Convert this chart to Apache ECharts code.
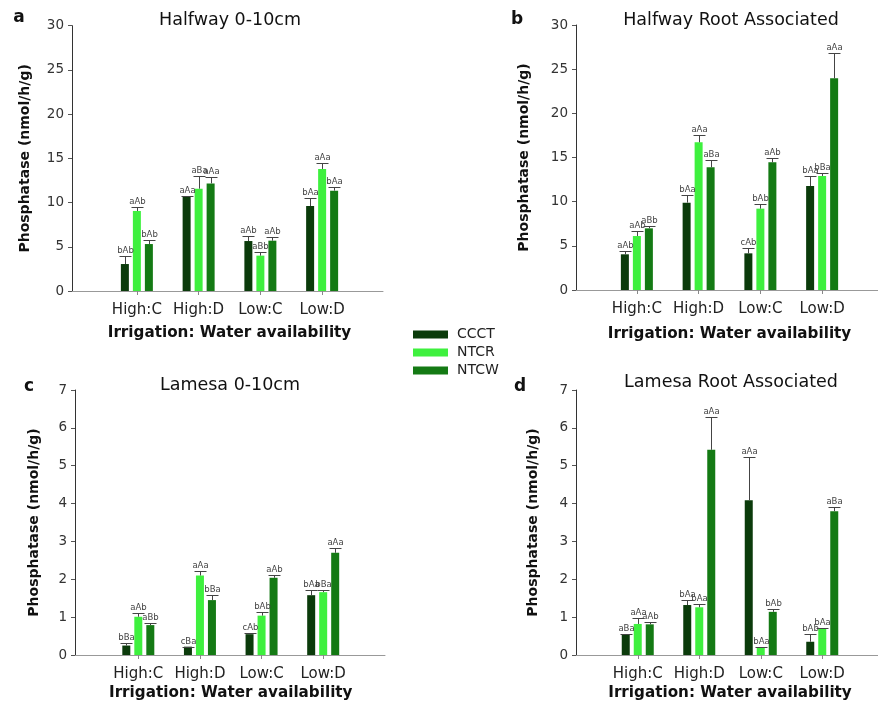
<!DOCTYPE html>
<html>
<head>
<meta charset="utf-8">
<script src="https://cdn.jsdelivr.net/npm/echarts@6/dist/echarts.min.js"></script>
<style>html,body{margin:0;padding:0;background:#fff}#c{width:878px;height:704px}</style>
</head>
<body>
<div id="c"></div>
<script>
// ---------- data ----------
const categories = ['High:C', 'High:D', 'Low:C', 'Low:D'];
const seriesNames = ['CCCT', 'NTCR', 'NTCW'];
const xAxisTitle = 'Irrigation: Water availability';
const yAxisTitle = 'Phosphatase (nmol/h/g)';

// Panel a: Halfway 0-10cm
const aCCCT = [3.05, 10.74, 5.65, 9.61];
const aCCCTse = [0.91, 0.05, 0.61, 0.94];
const aNTCR = [9.05, 11.57, 4.00, 13.80];
const aNTCRse = [0.41, 1.47, 0.37, 0.71];
const aNTCW = [5.31, 12.17, 5.69, 11.35];
const aNTCWse = [0.46, 0.68, 0.38, 0.41];
const aLabCCCT = ['bAb', 'aAa', 'aAb', 'bAa'];
const aLabNTCR = ['aAb', 'aBa', 'aBb', 'aAa'];
const aLabNTCW = ['bAb', 'aAa', 'aAb', 'bAa'];

// Panel b: Halfway Root Associated
const bCCCT = [4.04, 9.89, 4.15, 11.77];
const bCCCTse = [0.41, 0.83, 0.57, 1.17];
const bNTCR = [6.11, 16.72, 9.21, 12.91];
const bNTCRse = [0.57, 0.86, 0.53, 0.37];
const bNTCW = [6.98, 13.89, 14.45, 23.96];
const bNTCWse = [0.30, 0.79, 0.49, 2.91];
const bLabCCCT = ['aAb', 'bAa', 'cAb', 'bAa'];
const bLabNTCR = ['aAb', 'aAa', 'bAb', 'bBa'];
const bLabNTCW = ['aBb', 'aBa', 'aAb', 'aAa'];

// Panel c: Lamesa 0-10cm
const cCCCT = [0.25, 0.22, 0.55, 1.58];
const cCCCTse = [0.08, 0.00, 0.04, 0.15];
const cNTCR = [1.01, 2.10, 1.04, 1.66];
const cNTCRse = [0.11, 0.13, 0.10, 0.05];
const cNTCW = [0.79, 1.45, 2.04, 2.70];
const cNTCWse = [0.05, 0.13, 0.07, 0.13];
const cLabCCCT = ['bBa', 'cBa', 'cAb', 'bAa'];
const cLabNTCR = ['aAb', 'aAa', 'bAb', 'bBa'];
const cLabNTCW = ['aBb', 'bBa', 'aAb', 'aAa'];

// Panel d: Lamesa Root Associated
const dCCCT = [0.53, 1.32, 4.09, 0.35];
const dCCCTse = [0.02, 0.13, 1.13, 0.20];
const dNTCR = [0.82, 1.26, 0.20, 0.70];
const dNTCRse = [0.17, 0.09, 0.00, 0.02];
const dNTCW = [0.81, 5.42, 1.14, 3.80];
const dNTCWse = [0.06, 0.88, 0.08, 0.12];
const dLabCCCT = ['aBa', 'bAa', 'aAa', 'bAb'];
const dLabNTCR = ['aAa', 'bAa', 'bAa', 'bAa'];
const dLabNTCW = ['aAb', 'aAa', 'bAb', 'aBa'];

const panelTitles = ['Halfway 0-10cm', 'Halfway Root Associated', 'Lamesa 0-10cm', 'Lamesa Root Associated'];
const panelLetters = ['a', 'b', 'c', 'd'];
const yMaxes = [30, 30, 7, 7];
const yIntervals = [5, 5, 1, 1];

// ---------- style / layout ----------
const FF = 'DejaVu Sans';
const colors = ['#0b3b0b', '#3ef03e', '#147a14'];
const BAR_W = 8, BAR_GAP = 4;

const panels = [
  { vals: [aCCCT, aNTCR, aNTCW], ses: [aCCCTse, aNTCRse, aNTCWse], labs: [aLabCCCT, aLabNTCR, aLabNTCW],
    yAx: 72, gl: 106, gr: 353, top: 25.7, bot: 291, fr: 383, tx: 230, ty: 20.5, lx: 19, ly: 18, nameGap: 40, xNameGap: 35 },
  { vals: [bCCCT, bNTCR, bNTCW], ses: [bCCCTse, bNTCRse, bNTCWse], labs: [bLabCCCT, bLabNTCR, bLabNTCW],
    yAx: 576, gl: 606, gr: 853, top: 25, bot: 290, fr: 878, tx: 731, ty: 20.5, lx: 517, ly: 20, nameGap: 45, xNameGap: 37 },
  { vals: [cCCCT, cNTCR, cNTCW], ses: [cCCCTse, cNTCRse, cNTCWse], labs: [cLabCCCT, cLabNTCR, cLabNTCW],
    yAx: 75, gl: 107.5, gr: 354, top: 390, bot: 655, fr: 385, tx: 230, ty: 385, lx: 29, ly: 387, nameGap: 34, xNameGap: 31 },
  { vals: [dCCCT, dNTCR, dNTCW], ses: [dCCCTse, dNTCRse, dNTCWse], labs: [dLabCCCT, dLabNTCR, dLabNTCW],
    yAx: 576, gl: 607, gr: 853, top: 390, bot: 655, fr: 878, tx: 731, ty: 382, lx: 520, ly: 387, nameGap: 36, xNameGap: 31 }
];

const grid = [], xAxis = [], yAxis = [], series = [], graphic = [];

panels.forEach((p, i) => {
  grid.push({ left: p.gl, width: p.gr - p.gl, top: p.top, height: p.bot - p.top, containLabel: false });
  xAxis.push({
    type: 'category', gridIndex: i, data: categories,
    axisLine: { show: false },
    axisTick: { show: true, alignWithLabel: true, interval: 0, length: 4, lineStyle: { color: '#888' } },
    axisLabel: { interval: 0, fontFamily: FF, fontSize: 15, color: '#222', margin: 12 },
    name: xAxisTitle, nameLocation: 'middle', nameGap: p.xNameGap,
    nameTextStyle: { fontFamily: FF, fontWeight: 'bold', fontSize: 15.2, color: '#111' },
    splitLine: { show: false }
  });
  yAxis.push({
    type: 'value', gridIndex: i, min: 0, max: yMaxes[i], interval: yIntervals[i],
    offset: p.gl - p.yAx,
    axisLine: { show: true, lineStyle: { color: '#333' } },
    axisTick: { show: true, inside: false, length: 4, lineStyle: { color: '#555' } },
    axisLabel: { fontFamily: FF, fontSize: 13.5, color: '#333', margin: 8 },
    splitLine: { show: false },
    name: yAxisTitle, nameLocation: 'middle', nameRotate: 90, nameGap: p.nameGap,
    nameTextStyle: { fontFamily: FF, fontWeight: 'bold', fontSize: 14, color: '#111' }
  });
  seriesNames.forEach((sn, k) => {
    series.push({
      type: 'bar', name: sn, xAxisIndex: i, yAxisIndex: i,
      data: p.vals[k], barWidth: BAR_W, barGap: (BAR_GAP / BAR_W * 100) + '%',
      itemStyle: { color: colors[k] }, z: 2
    });
  });
  seriesNames.forEach((sn, k) => {
    const labs = p.labs[k];
    const offset = (k - 1) * (BAR_W + BAR_GAP);
    series.push({
      type: 'custom', name: 'err' + i + k, xAxisIndex: i, yAxisIndex: i, z: 5, clip: false,
      encode: { x: 0, y: 1 },
      data: categories.map((c, j) => [j, p.vals[k][j], p.ses[k][j]]),
      renderItem: (params, api) => {
        const ci = api.value(0), v = api.value(1), se = api.value(2);
        const base = api.coord([ci, v]);
        const topP = api.coord([ci, v + se]);
        const x = Math.round(base[0] + offset) + 0.5;
        const yt = Math.round(topP[1]) + 0.5;
        const ch = [];
        if (se > 0) ch.push({ type: 'line', shape: { x1: x, y1: base[1], x2: x, y2: yt }, style: { stroke: '#444', lineWidth: 1 } });
        ch.push({ type: 'line', shape: { x1: x - 6, y1: yt, x2: x + 6, y2: yt }, style: { stroke: '#444', lineWidth: 1 } });
        ch.push({ type: 'text', style: { text: labs[params.dataIndex], x: x, y: yt - 1, align: 'center', verticalAlign: 'bottom', fontFamily: FF, fontSize: 8.5, fill: '#444' } });
        return { type: 'group', children: ch };
      }
    });
  });
  graphic.push({ type: 'text', x: p.tx, y: p.ty, style: { text: panelTitles[i], x: 0, y: 0, align: 'center', verticalAlign: 'middle', fontFamily: FF, fontSize: 17.5, fill: '#111' } });
  graphic.push({ type: 'text', x: p.lx, y: p.ly, style: { text: panelLetters[i], x: 0, y: 0, align: 'center', verticalAlign: 'middle', fontFamily: FF, fontWeight: 'bold', fontSize: 17, fill: '#111' } });
});

// frame grids: extended x axis baseline
panels.forEach((p, i) => {
  grid.push({ left: p.yAx, width: p.fr - p.yAx, top: p.top, height: p.bot - p.top });
  xAxis.push({ type: 'value', gridIndex: 4 + i, min: 0, max: 1, axisLine: { show: true, lineStyle: { color: '#999' } },
    axisTick: { show: false }, axisLabel: { show: false }, splitLine: { show: false } });
  yAxis.push({ type: 'value', gridIndex: 4 + i, show: false, min: 0, max: 1 });
});

const chart = echarts.init(document.getElementById('c'), null, { renderer: 'canvas' });
chart.setOption({
  animation: false,
  backgroundColor: '#fff',
  grid, xAxis, yAxis, series, graphic,
  legend: {
    data: seriesNames, orient: 'vertical', left: 413, top: 327.5, padding: 0,
    icon: 'rect', itemWidth: 35, itemHeight: 8, itemGap: 4,
    textStyle: { fontFamily: FF, fontSize: 14, color: '#222', padding: [0, 0, 0, 4] },
    selectedMode: false
  }
});
</script>
</body>
</html>
